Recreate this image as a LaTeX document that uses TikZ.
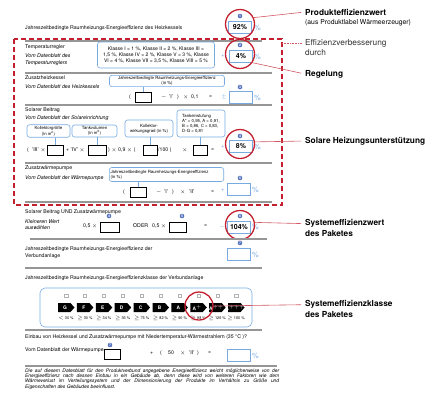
\documentclass[tikz,border=0pt]{standalone}
\usepackage{fontspec}
\setmainfont{TeX Gyre Heros}
\usetikzlibrary{calc,positioning}
\definecolor{markred}{RGB}{196,32,48}
\definecolor{boxblue}{RGB}{120,170,225}
\definecolor{infoblue}{RGB}{85,115,190}
\definecolor{rulegray}{RGB}{150,150,150}

\begin{document}
\begin{tikzpicture}[
        x=1pt,
        y=-1pt,
        txt/.style={anchor=west,inner sep=0pt,font=\fontsize{5.2}{6}\selectfont},
        src/.style={txt,font=\fontsize{5.2}{6}\selectfont\itshape},
        sep rule/.style={rulegray,line width=1.1pt},
        hint/.style={draw=boxblue,fill=white,rounded corners=2.5pt,line width=0.6pt,
            inner sep=1.2pt,font=\fontsize{4.3}{4.9}\selectfont,align=center},
        entry/.style={draw,line width=0.6pt,minimum width=16pt,minimum height=10pt,inner sep=0pt},
        result/.style={draw=boxblue,line width=1pt,minimum width=23pt,minimum height=12pt,
            inner sep=0pt,font=\fontsize{7}{8}\selectfont\bfseries},
        sign/.style={inner sep=0pt,text=boxblue,font=\fontsize{6}{7}\selectfont},
        pct/.style={anchor=west,inner sep=0pt,text=boxblue,font=\fontsize{7.5}{8}\selectfont},
        info/.style={circle,fill=infoblue,text=white,inner sep=0pt,minimum size=4.6pt,
            font=\fontsize{3.4}{3.4}\selectfont\bfseries},
        hilite/.style={circle,draw=markred,line width=1.3pt,minimum size=29pt,inner sep=0pt},
        callout/.style={markred!75,line width=0.6pt,shorten >=4pt},
        caption/.style={anchor=west,inner sep=0pt,align=left,font=\fontsize{8.3}{11}\selectfont\bfseries},
        link/.style={boxblue,line width=0.6pt}
    ]
        \useasboundingbox (0,0) rectangle (440,400);

        % Product efficiency of the boiler.
        \node[txt] (hdr) at (25,28) {Jahreszeitbedingte Raumheizungs-Energieeffizienz des Heizkessels};
        \node[result] (r1) at (240,27) {92\%};
        \node[info] (i1) at (240,16) {1};
        \node[pct] (p1) at (254,28) {\%};
        \node[hilite] (c1) at (240,24) {};
        \node[caption] (cap1) at (305,12) {Produkteffizienzwert};
        \node[anchor=west,inner sep=0pt,font=\fontsize{6.8}{8}\selectfont] (cap1b) at (305,23)
            {(aus Produktlabel Wärmeerzeuger)};
        \draw[callout] (c1.25) -- (cap1.west);

        % The dashed frame around the improvements.
        \draw[markred,line width=1.2pt,dash pattern=on 5pt off 3pt] (14,39) rectangle (282,205);
        \coordinate (frame) at (282,43);
        \node[anchor=west,inner sep=0pt,font=\fontsize{8.3}{10}\selectfont,text=black!80] (cap2)
            at (305,43) {Effizienzverbesserung};
        \node[anchor=west,inner sep=0pt,font=\fontsize{8.3}{10}\selectfont,text=black!80] (cap2b)
            at (305,52.5) {durch};
        \draw[markred!75,line width=0.6pt,densely dotted,shorten >=3pt] (frame) -- (cap2.west);

        % Temperature control.
        \draw[sep rule] (25,41) -- (262,41);
        \node[txt] (tr) at (25,47) {Temperaturregler};
        \node[src] (trs) at (25,56) {Vom Datenblatt des};
        \node[src] (trs2) at (25,63) {Temperaturreglers};
        \node[hint,font=\fontsize{5}{6}\selectfont,minimum width=117pt,minimum height=26pt] (h1) at (156,55)
            {Klasse I = 1 \%, Klasse II = 2 \%, Klasse III =\\
             1,5 \%, Klasse IV = 2 \%, Klasse V = 3 \%, Klasse\\
             VI = 4 \%, Klasse VII = 3,5 \%, Klasse VIII = 5 \%};
        \node[sign] (s2) at (223,56) {+};
        \node[result] (r2) at (241,56) {4\%};
        \node[info] (i2) at (240,45) {2};
        \node[pct] (p2) at (254,57) {\%};
        \node[hilite] (c2) at (240,54) {};
        \node[caption] (cap3) at (305,74) {Regelung};
        \draw[callout] (c2.-35) -- (cap3.west);

        % Supplementary boiler.
        \draw[sep rule] (25,73) -- (272,73);
        \node[txt] (zk) at (25,78) {Zusatzheizkessel};
        \node[src] (zks) at (25,87) {Vom Datenblatt des Heizkessels};
        \node[hint,minimum width=115pt] (h2) at (167,81)
            {Jahreszeitbedingte Raumheizungs-Energieeffizienz\\(in \%)};
        \node[entry] (e2) at (143,97) {};
        \draw[link] (h2.south -| e2.north) -- (e2.north);
        \foreach \x/\s in {129/(,161/$-$,169/'I',177/),183/$\times$,191/{0,1},209/=}
            \node[txt] (zk\x) at (\x,97) {\s};
        \node[sign] (s3) at (224,97) {$\pm$};
        \node[result] (r3) at (241,97) {};
        \node[info] (i3) at (240,87) {3};
        \node[pct] (p3) at (254,98) {\%};

        % Solar contribution.
        \draw[sep rule] (25,105) -- (272,105);
        \node[txt] (sb) at (25,110) {Solarer Beitrag};
        \node[src] (sbs) at (25,118) {Vom Datenblatt der Solareinrichtung};
        \node[hint,minimum width=43pt,minimum height=12pt] (h3) at (48.5,131)
            {Kollektorgröße\\(in m\textsuperscript{2})};
        \node[hint,minimum width=45pt,minimum height=12pt] (h4) at (94.5,131)
            {Tankvolumen\\(in m\textsuperscript{3})};
        \node[hint,minimum width=48pt,minimum height=17pt] (h5) at (149,128.5)
            {Kollektor-\\wirkungsgrad (in \%)};
        \node[hint,align=left,minimum width=48pt,minimum height=27pt] (h6) at (201,123.5)
            {Tankeinstufung\\A* = 0,95, A = 0,91,\\B = 0,86, C = 0,83,\\D-G = 0,81};
        \node[entry] (e3) at (55,150) {};
        \node[entry,minimum width=18pt] (e4) at (97,150) {};
        \node[entry,minimum width=14pt] (e5) at (150,150) {};
        \node[entry,minimum width=14pt] (e6) at (200,150) {};
        \draw[link] (h3.south -| e3.north) -- (e3.north);
        \draw[link] (h4.south -| e4.north) -- (e4.north);
        \draw[link] (h5.south -| e5.north) -- (e5.north);
        \draw[link] (h6.south -| e6.north) -- (e6.north);
        \foreach \x/\s in {27/(,32/{'III' $\times$},66/{+ 'IV' $\times$},108/{) $\times$ 0,9 $\times$ (},158/{/100 )},182/$\times$,211/=}
            \node[txt] (sb\x) at (\x,150) {\s};
        \node[sign] (s4) at (223,147) {+};
        \node[result] (r4) at (241,146) {8\%};
        \node[info] (i4) at (240,136) {4};
        \node[pct] (p4) at (254,147) {\%};
        \node[hilite] (c4) at (240,144) {};
        \node[caption] (cap4) at (305,141) {Solare Heizungsunterstützung};
        \draw[callout] (c4.8) -- (cap4.west);

        % Supplementary heat pump.
        \draw[sep rule] (25,163) -- (272,163);
        \node[txt] (wp) at (25,168) {Zusatzwärmepumpe};
        \node[src] (wps) at (25,178) {Vom Datenblatt der Wärmepumpe};
        \node[hint,align=left,text width=112pt,minimum height=14pt] (h7) at (166.5,174.5)
            {Jahreszeitbedingte Raumheizungs-Energieeffizienz\\(in \%)};
        \node[entry] (e7) at (138,192) {};
        \draw[link] (h7.south -| e7.north) -- (e7.north);
        \foreach \x/\s in {123/(,156/$-$,164/'I',172/),180/$\times$,189/'II',211/=}
            \node[txt] (wp\x) at (\x,192) {\s};
        \node[sign] (s5) at (223,190) {+};
        \node[result] (r5) at (239,189) {};
        \node[info] (i5) at (240,178) {5};
        \node[pct] (p5) at (252,190) {\%};
        \draw[sep rule] (25,202) -- (272,202);

        % Solar contribution and heat pump together.
        \node[txt] (sw) at (25,212) {Solarer Beitrag UND Zusatzwärmepumpe};
        \node[src] (sws) at (25,222) {Kleineren Wert};
        \node[src] (sws2) at (25,228) {auswählen};
        \node[txt] (half1) at (83,226) {0,5 $\times$};
        \node[entry,minimum width=19pt] (e8) at (110,227) {};
        \node[info] (i6) at (109,216) {4};
        \node[txt] (oder) at (133,226) {ODER};
        \node[txt] (half2) at (152,226) {0,5 $\times$};
        \node[entry,minimum width=17pt] (e9) at (178,227) {};
        \node[info] (i7) at (182,216) {5};
        \node[txt] (eq8) at (204,226) {=};
        \node[sign] (s8) at (222,227) {$-$};
        \node[result] (r8) at (239,227) {104\%};
        \node[info] (i8) at (240,216) {6};
        \node[pct] (p8) at (252,227) {\%};
        \node[hilite] (c8) at (240,225) {};
        \node[caption] (cap5) at (305,228) {Systemeffizienzwert\\des Paketes};
        \draw[callout] (c8.10) -- ($(cap5.north west)+(0,4.5)$);

        % Efficiency of the package.
        \draw[sep rule] (30,239) -- (267,239);
        \node[txt] (vb) at (25,249) {Jahreszeitbedingte Raumheizungs-Energieeffizienz der};
        \node[txt] (vb2) at (25,256) {Verbundanlage};
        \node[result] (r9) at (239,254) {};
        \node[info] (i9) at (240,243) {7};
        \node[pct] (p9) at (252,255) {\%};
        \draw[sep rule] (25,268) -- (262,268);

        % Efficiency class of the package.
        \node[txt] (kl) at (25,278) {Jahreszeitbedingte Raumheizungs-Energieeffizienzklasse der Verbundanlage};
        \draw[boxblue,line width=0.6pt,rounded corners=5pt] (40,288) rectangle (252,327);
        \foreach \cls/\thr [count=\i from 0] in {G/{$<$ 30 \%},F/{$\geq$ 30 \%},E/{$\geq$ 34 \%},
                D/{$\geq$ 36 \%},C/{$\geq$ 75 \%},B/{$\geq$ 82 \%},A/{$\geq$ 90 \%},
                A$^{+}$/{$\geq$ 98 \%},A$^{++}$/{$\geq$ 125 \%},A$^{+++}$/{$\geq$ 150 \%}} {
            \pgfmathsetmacro{\xa}{58+18.9*\i}
            \draw[gray!60,line width=0.3pt] (\xa+6.5,294) rectangle ++(3.2,3.2);
            \fill (\xa,303) -- ++(12.5,0) -- ++(4,4.5) -- ++(-4,4.5) -- ++(-12.5,0) -- cycle;
            \node[inner sep=0pt,text=white,font=\fontsize{4.8}{5}\selectfont\bfseries] (cls\i)
                at (\xa+7,307.5) {\cls};
            \node[inner sep=0pt,font=\fontsize{3.8}{4}\selectfont] (thr\i) at (\xa+8,318) {\thr};
        }
        \node[hilite,minimum size=28pt] (c10) at (199,306) {};
        \node[caption] (cap6) at (305,309) {Systemeffizienzklasse\\des Paketes};
        \draw[callout] (c10.east) -- ($(cap6.north west)+(0,4.5)$);
        \draw[sep rule] (25,330) -- (262,330);

        % Low temperature emitters.
        \node[txt] (lt) at (25,337) {Einbau von Heizkessel und Zusatzwärmepumpe mit Niedertemperatur-Wärmestrahlern (35 °C )?};
        \node[txt] (lts) at (25,350) {Vom Datenblatt der Wärmepumpe};
        \node[entry] (e10) at (112,354) {};
        \node[info] (i10) at (110,345) {7};
        \foreach \x/\s in {150/+,160/(,168/50,180/$\times$,189/'II',197/),208/=}
            \node[txt] (lt\x) at (\x,353) {\s};
        \node[result] (r10) at (239,355) {};
        \node[pct] (p10) at (252,356) {\%};
        \draw[sep rule] (25,366) -- (277,366);

        % The closing remark.
        \node[anchor=north west,inner sep=0pt,text width=254pt,align=justify,
            font=\fontsize{4.9}{5.3}\selectfont\itshape] (note) at (25,368.5)
            {Die auf diesem Datenblatt für den Produktverbund angegebene Energieeffizienz weicht möglicherweise von der\linebreak
             Energieeffizienz nach dessen Einbau in ein Gebäude ab, denn diese wird von weiteren Faktoren wie dem\linebreak
             Wärmeverlust im Verteilungssystem und der Dimensionierung der Produkte im Verhältnis zu Größe und\linebreak
             Eigenschaften des Gebäudes beeinflusst.};
    \end{tikzpicture}
\end{document}
